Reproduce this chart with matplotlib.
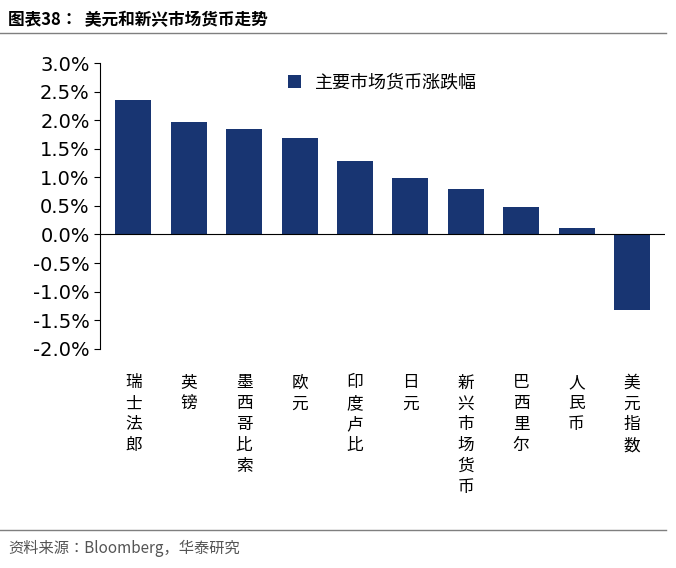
import matplotlib
matplotlib.use("Agg")
import matplotlib.pyplot as plt
from matplotlib import font_manager as fm
from matplotlib.ticker import FuncFormatter

categories = ["瑞士法郎", "英镑", "墨西哥比索", "欧元", "印度卢比", "日元", "新兴市场货币", "巴西里尔", "人民币", "美元指数"]
values = [2.35, 1.97, 1.85, 1.69, 1.28, 0.99, 0.79, 0.48, 0.11, -1.32]
yticks = [3.0, 2.5, 2.0, 1.5, 1.0, 0.5, 0.0, -0.5, -1.0, -1.5, -2.0]

def cjk_fp(size, weight="normal"):
    files = [f for f in fm.findSystemFonts() if "cjk" in f.lower() or "CJK" in f]
    pref = [f for f in files if "SC" in f or "sc" in f.lower()] or files
    if weight == "bold":
        b = [f for f in pref if "Bold" in f]
        if b:
            pref = b
    else:
        r = [f for f in pref if "Regular" in f]
        if r:
            pref = r
    if pref:
        return fm.FontProperties(fname=pref[0], size=size)
    return fm.FontProperties(family="Noto Sans CJK SC", size=size, weight=weight)

color = "#183572"

fig = plt.figure(figsize=(6.76, 5.68), dpi=100)
ax = fig.add_axes([0.148, 0.386, 0.836, 0.503])
x = range(len(categories))
ax.bar(x, values, width=0.65, color=color, label="主要市场货币涨跌幅")
ax.set_ylim(-2.0, 3.0)
ax.set_xlim(-0.6, len(categories) - 0.4)
ax.set_yticks(yticks)
ax.yaxis.set_major_formatter(FuncFormatter(lambda v, p: f"{v:.1f}%"))
ax.tick_params(axis="y", labelsize=14, direction="out", length=4)
ax.axhline(0, color="black", lw=0.8)
for s in ["top", "right", "bottom"]:
    ax.spines[s].set_visible(False)
ax.set_xticks([])
for i, c in enumerate(categories):
    ax.text(i, -2.45, "\n".join(c), ha="center", va="top", fontproperties=cjk_fp(12),
            linespacing=1.3)
ax.legend(loc="upper center", bbox_to_anchor=(0.5, 1.02), frameon=False,
          prop=cjk_fp(13), handlelength=0.7, handleheight=0.7)

fig.text(0.012, 0.965, "图表38：  美元和新兴市场货币走势", fontproperties=cjk_fp(12, "bold"),
         ha="left", va="center")
fig.add_artist(plt.Line2D([0.0, 0.985], [0.942, 0.942], color="#7F7F7F", lw=1))
fig.add_artist(plt.Line2D([0.0, 0.985], [0.067, 0.067], color="#7F7F7F", lw=1))
fig.text(0.012, 0.035, "资料来源：Bloomberg，华泰研究", fontproperties=cjk_fp(11),
         color="#555555", ha="left", va="center")
fig.savefig("out.png", dpi=100)
